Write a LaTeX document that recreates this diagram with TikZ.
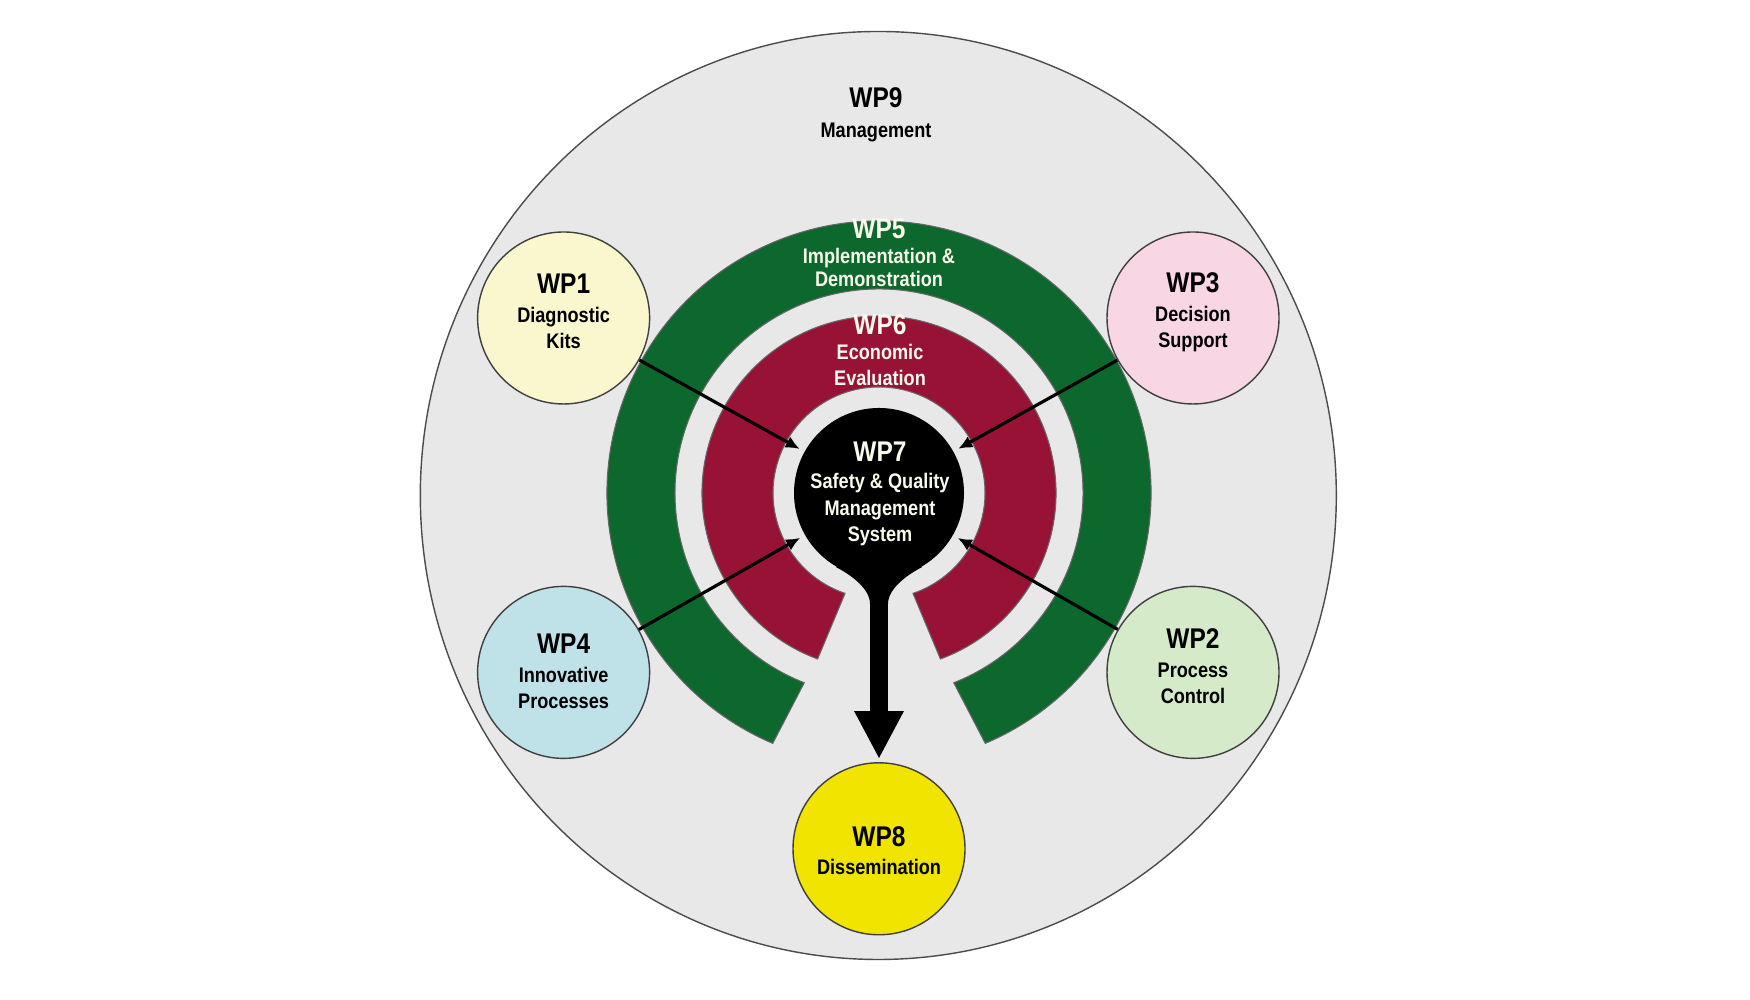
\documentclass[tikz,border=0pt]{standalone}
\usepackage{fontspec}
\setmainfont{Liberation Sans}[FakeStretch=0.86]
\usetikzlibrary{arrows.meta}

\definecolor{wpgray}{RGB}{232,232,232}
\definecolor{wpgreen}{RGB}{12,104,44}
\definecolor{wpred}{RGB}{152,18,54}
\definecolor{wpcream}{RGB}{250,250,236}
\definecolor{wpkits}{RGB}{250,246,206}
\definecolor{wpdecision}{RGB}{248,214,228}
\definecolor{wpinnov}{RGB}{190,226,232}
\definecolor{wpprocess}{RGB}{212,234,200}
\definecolor{wpdissem}{RGB}{240,228,0}

\newcommand{\wpt}[1]{{\fontsize{8.1}{9}\selectfont #1}}

\begin{document}
\begin{tikzpicture}[
  font=\fontsize{6}{7.4}\selectfont\bfseries,
  wp/.style={circle,draw=black!75,line width=0.4pt,minimum size=1.72cm,inner sep=0pt},
  wptext/.style={align=center},
  ringtext/.style={text=wpcream,align=center},
  ring/.style={draw=black!60,line width=0.3pt},
  feed/.style={line width=0.9pt,-{Latex[length=4pt,width=3.6pt]},shorten >=0.05cm}]
  \fill[white] (0,0) rectangle (17.5,10);
  \useasboundingbox (0,0) rectangle (17.5,10);
  \draw[fill=wpgray,draw=black!70,line width=0.4pt] (8.783,5.045) ellipse [x radius=4.58,y radius=4.64];
  % rings
  \begin{scope}[shift={(8.79,5.07)}]
    \draw[ring,fill=wpgreen] (-67:2.72) arc [start angle=-67,end angle=247,radius=2.72]
      -- (248.5:2.04) arc [start angle=248.5,end angle=-68.5,radius=2.04] -- cycle;
    \draw[ring,fill=wpred] (-69.7:1.77) arc [start angle=-69.7,end angle=249.7,radius=1.77]
      -- (251.3:1.06) arc [start angle=251.3,end angle=-71.3,radius=1.06] -- cycle;
  \end{scope}
  \node[wptext] (wp9txt) at (8.76,8.853) {\wpt{WP9}\\[1.2pt]Management};
  \node[ringtext,font=\fontsize{6}{6.8}\selectfont\bfseries] (wp5txt) at (8.79,7.47)
    {\wpt{WP5}\\[0.2pt]Implementation \&\\Demonstration};
  \node[ringtext] (wp6txt) at (8.80,6.50) {\wpt{WP6}\\[-0.4pt]Economic\\Evaluation};
  % centre
  \node[circle,fill=black,minimum size=1.7cm,inner sep=0pt] (wp7) at (8.79,5.07) {};
  \fill (wp7.240) .. controls (8.495,4.259) and (8.70,4.12) .. (8.70,3.96) -- (8.88,3.96)
    .. controls (8.88,4.12) and (9.085,4.259) .. (wp7.-60) -- (wp7.center) -- cycle;
  \node[ringtext,font=\fontsize{6}{7.45}\selectfont\bfseries] (wp7txt) at (8.80,5.06)
    {\wpt{WP7}\\[0.2pt]Safety \& Quality\\Management\\System};
  % work packages
  \node[wp,fill=wpkits] (wp1) at (5.636,6.82) {};
  \node[wp,fill=wpdecision] (wp3) at (11.93,6.82) {};
  \node[wp,fill=wpinnov] (wp4) at (5.636,3.276) {};
  \node[wp,fill=wpprocess] (wp2) at (11.93,3.276) {};
  \node[wp,fill=wpdissem] (wp8) at (8.79,1.512) {};
  \node[wptext] (wp1txt) at ([yshift=0.067cm]wp1.center) {\wpt{WP1}\\[0.7pt]Diagnostic\\Kits};
  \node[wptext] (wp3txt) at ([yshift=0.055cm]wp3.center) {\wpt{WP3}\\[0.7pt]Decision\\Support};
  \node[wptext] (wp4txt) at ([yshift=0.01cm]wp4.center) {\wpt{WP4}\\[0.7pt]Innovative\\Processes};
  \node[wptext] (wp2txt) at ([yshift=0.06cm]wp2.center) {\wpt{WP2}\\[0.7pt]Process\\Control};
  \node[wptext] (wp8txt) at ([yshift=-0.02cm]wp8.center) {\wpt{WP8}\\[0.7pt]Dissemination};
  \foreach \src in {wp1,wp2,wp3,wp4}
    \draw[feed] (\src) -- (wp7);
  \draw[line width=0.18cm,-{Triangle[length=0.48cm,width=0.46cm]},shorten >=0.03cm]
    (wp7.south) -- (wp8.north);
\end{tikzpicture}
\end{document}
